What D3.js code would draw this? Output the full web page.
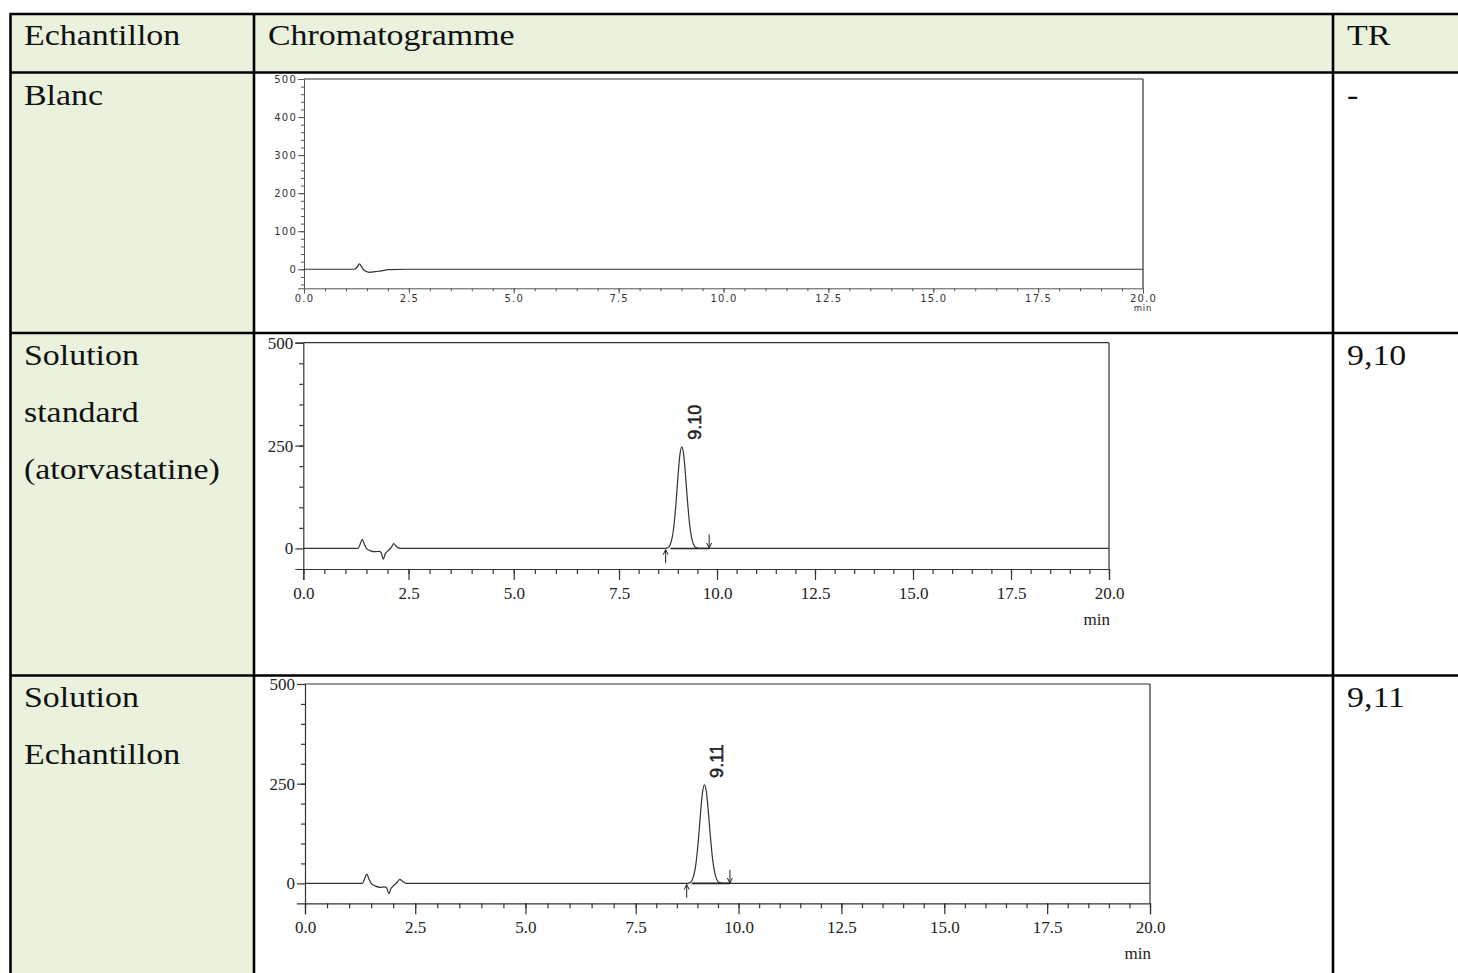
<!DOCTYPE html>
<html lang="fr">
<head>
    <meta charset="UTF-8">
    <title>Chromatogrammes</title>
    <script src="https://d3js.org/d3.v7.min.js"></script>
    <style>
        body { margin: 0; background: #fff; }
        .cell { font-family: "Liberation Serif", "Times New Roman", serif; font-size: 30px; fill: #111; }
        .grid { stroke: #000; stroke-width: 2.6; }
        .trace { fill: none; stroke: #333; stroke-width: 1.2; }
        .frame { stroke: #333; stroke-width: 1.2; }
        .small .tick text { font-family: "DejaVu Sans", Verdana, sans-serif; font-size: 10px; letter-spacing: 1.2px; fill: #333; }
        .small path, .small line { stroke: #555; }
        .big .tick text { font-family: "Liberation Serif", "Times New Roman", serif; font-size: 17px; fill: #222; }
        .big path, .big line { stroke: #333; stroke-width: 1.2; }
    </style>
</head>
<body>
<svg width="1458" height="973"></svg>
<script>
    // table contents
    const headers = ["Echantillon", "Chromatogramme", "TR"];
    const sampleLabels = [["Blanc"], ["Solution", "standard", "(atorvastatine)"], ["Solution", "Echantillon"]];
    const trValues = ["-", "9,10", "9,11"];

    // chromatogram traces (time in min, signal in mAU)
    const blancTime   = [0, 1.2, 1.27, 1.32, 1.38, 1.45, 1.57, 1.7, 1.85, 2.0, 2.5, 20];
    const blancSignal = [0, 0, 6, 14, 5, -4, -8, -6, -4, -1, 0, 0];

    const standardTime   = [0, 1.3, 1.35, 1.4, 1.45, 1.5, 1.6, 1.7, 1.8, 1.85, 1.9, 1.95, 2.0, 2.1, 2.15, 2.2, 2.3,
                            8.7, 8.75, 8.8, 8.85, 8.9, 8.95, 9.0, 9.05, 9.1, 9.15, 9.2, 9.25, 9.3, 9.35, 9.4, 9.45, 9.55, 20];
    const standardSignal = [0, 0, 10, 22, 10, 0, -6, -8, -7, -10, -26, -12, -7, 4, 12, 6, 0,
                            0, 2, 8, 23, 54, 105, 169, 225, 247, 228, 174, 112, 60, 27, 10, 3, 0, 0];

    const sampleTime   = [0, 1.3, 1.35, 1.4, 1.45, 1.5, 1.6, 1.7, 1.8, 1.85, 1.9, 1.95, 2.0, 2.1, 2.15, 2.2, 2.3,
                          8.77, 8.82, 8.87, 8.92, 8.97, 9.02, 9.07, 9.12, 9.17, 9.22, 9.27, 9.32, 9.37, 9.42, 9.47, 9.52, 9.62, 20];
    const sampleSignal = [0, 0, 11, 23, 11, 0, -7, -10, -9, -11, -26, -13, -7, 4, 10, 6, 0,
                          0, 2, 8, 23, 54, 105, 169, 225, 247, 228, 174, 112, 60, 27, 10, 3, 0, 0];

    const peakLabels = [null, "9.10", "9.11"];
    const peakTimes = [null, 9.10, 9.17];
    const peakHeights = [null, 247, 247];
    const integStart = [null, 8.69, 8.74];
    const integEnd = [null, 9.80, 9.79];

    // axis ticks
    const xMajor = [0, 2.5, 5, 7.5, 10, 12.5, 15, 17.5, 20];
    const xMinor = d3.range(0, 20.01, 0.5);
    const yMajorBlanc = [0, 100, 200, 300, 400, 500];
    const yMinorBlanc = d3.range(-40, 500, 20);
    const yMajorStd = [0, 250, 500];
    const yMinorStd = d3.range(50, 500, 50);

    const svg = d3.select("svg");

    // ---- table background and grid ----
    svg.append("rect").attr("x", 10).attr("y", 14).attr("width", 1448).attr("height", 58).attr("fill", "#eaf1dd");
    svg.append("rect").attr("x", 10).attr("y", 72).attr("width", 244).attr("height", 901).attr("fill", "#eaf1dd");

    [14, 72.5, 333, 675.5].forEach(y => {
        svg.append("line").attr("class", "grid").attr("x1", 10).attr("x2", 1458).attr("y1", y).attr("y2", y);
    });
    [10.5, 254, 1333].forEach(x => {
        svg.append("line").attr("class", "grid").attr("x1", x).attr("x2", x).attr("y1", 13).attr("y2", 973);
    });

    function cellText(x, y, str) {
        svg.append("text").attr("class", "cell")
            .attr("transform", `translate(${x},${y}) scale(1.13,1)`)
            .text(str);
    }

    cellText(24, 45, headers[0]);
    cellText(268, 45, headers[1]);
    cellText(1347, 45, headers[2]);

    const rowTops = [105, 365, 707];
    sampleLabels.forEach((lines, i) => {
        lines.forEach((s, j) => cellText(24, rowTops[i] + j * 57, s));
        cellText(1347, rowTops[i], trValues[i]);
    });

    // ---- chromatograms ----
    const panels = [
        {
            time: blancTime, signal: blancSignal, kind: "small",
            x: d3.scaleLinear().domain([0, 20]).range([304, 1143]),
            y: d3.scaleLinear().domain([-50, 500]).range([288.3, 79]),
            yMajor: yMajorBlanc, yMinor: yMinorBlanc
        },
        {
            time: standardTime, signal: standardSignal, kind: "big",
            x: d3.scaleLinear().domain([0, 7.5, 20]).range([303.3, 619, 1109]),
            y: d3.scaleLinear().domain([-50, 500]).range([569, 342.7]),
            yMajor: yMajorStd, yMinor: yMinorStd
        },
        {
            time: sampleTime, signal: sampleSignal, kind: "big",
            x: d3.scaleLinear().domain([0, 7.5, 20]).range([305, 635.7, 1150]),
            y: d3.scaleLinear().domain([-50, 500]).range([903.3, 684]),
            yMajor: yMajorStd, yMinor: yMinorStd
        }
    ];

    panels.forEach((p, i) => {
        const small = p.kind === "small";
        const g = svg.append("g");
        const x0 = p.x.range()[0], x1 = p.x.range()[p.x.range().length - 1];
        const yb = p.y(-50), yt = p.y(500);

        // frame (top + right)
        g.append("line").attr("class", "frame").attr("x1", x0).attr("x2", x1).attr("y1", yt).attr("y2", yt)
            .attr("stroke", small ? "#666" : "#333");
        g.append("line").attr("class", "frame").attr("x1", x1).attr("x2", x1).attr("y1", yt).attr("y2", yb)
            .attr("stroke", small ? "#666" : "#333");

        // minor ticks
        g.append("g").attr("class", p.kind).attr("transform", `translate(0,${yb})`)
            .call(d3.axisBottom(p.x).tickValues(xMinor).tickSize(small ? 3 : 5).tickFormat(""))
            .select(".domain").remove();
        g.append("g").attr("class", p.kind).attr("transform", `translate(${x0},0)`)
            .call(d3.axisLeft(p.y).tickValues(p.yMinor).tickSize(small ? 3 : 4).tickFormat(""))
            .select(".domain").remove();

        // major axes
        g.append("g").attr("class", p.kind).attr("transform", `translate(0,${yb})`)
            .call(d3.axisBottom(p.x).tickValues(xMajor).tickSizeOuter(0)
                .tickSize(small ? 5 : 11).tickPadding(small ? 2 : 7).tickFormat(d3.format(".1f")));
        g.append("g").attr("class", p.kind).attr("transform", `translate(${x0},0)`)
            .call(d3.axisLeft(p.y).tickValues(p.yMajor).tickSizeOuter(0)
                .tickSize(small ? 6 : 8).tickPadding(small ? 1 : 2).tickFormat(d3.format("d")));

        // "min" unit label
        g.append("text")
            .attr("x", small ? x1 : x1 + 1)
            .attr("y", small ? yb + 23 : yb + 56)
            .attr("text-anchor", small ? "middle" : "end")
            .attr("font-family", small ? "DejaVu Sans, sans-serif" : "Liberation Serif, serif")
            .attr("font-size", small ? 8.5 : 17)
            .attr("letter-spacing", small ? 0.8 : 0)
            .attr("fill", small ? "#333" : "#222")
            .text("min");

        // trace
        const pts = p.time.map((t, k) => [t, p.signal[k]]);
        g.append("path").attr("class", "trace")
            .attr("stroke", small ? "#555" : "#333")
            .attr("d", d3.line().x(d => p.x(d[0])).y(d => p.y(d[1])).curve(d3.curveMonotoneX)(pts));

        if (peakLabels[i]) {
            // integration baseline and markers
            g.append("line").attr("stroke", "#222").attr("stroke-width", 1.6)
                .attr("x1", p.x(integStart[i] + 0.12)).attr("x2", p.x(integEnd[i]))
                .attr("y1", p.y(0)).attr("y2", p.y(0));

            const xs = p.x(integStart[i]);
            g.append("path").attr("fill", "none").attr("stroke", "#222").attr("stroke-width", 1)
                .attr("d", `M${xs},${p.y(-36)}V${p.y(-3)}M${xs - 2.5},${p.y(-3) + 5}L${xs},${p.y(-3)}L${xs + 2.5},${p.y(-3) + 5}`);
            const xe = p.x(integEnd[i]);
            g.append("path").attr("fill", "none").attr("stroke", "#222").attr("stroke-width", 1)
                .attr("d", `M${xe},${p.y(34)}V${p.y(1)}M${xe - 2.5},${p.y(1) - 5}L${xe},${p.y(1)}L${xe + 2.5},${p.y(1) - 5}`);

            g.append("text")
                .attr("transform", `translate(${p.x(peakTimes[i]) + 19},${p.y(peakHeights[i]) - 7}) rotate(-90)`)
                .attr("font-family", "Liberation Sans, Arial, sans-serif")
                .attr("font-size", 18)
                .attr("fill", "#222")
                .attr("stroke", "#222")
                .attr("stroke-width", 0.5)
                .text(peakLabels[i]);
        }
    });
</script>
</body>
</html>
